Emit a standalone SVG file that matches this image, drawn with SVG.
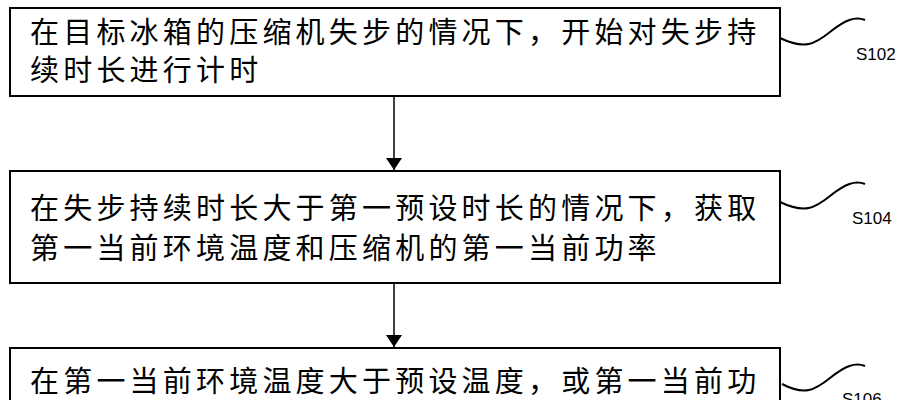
<svg xmlns="http://www.w3.org/2000/svg" width="909" height="400" viewBox="0 0 909 400">
<defs><marker id="ah" markerWidth="12" markerHeight="16" refX="12" refY="8" orient="auto" markerUnits="userSpaceOnUse"><path d="M0,0 L12,8 L0,16 z" fill="#000"/></marker></defs>
<style>
.box{fill:#fff;stroke:#000;stroke-width:2}
.t{font-family:"Noto Sans CJK SC",sans-serif;font-size:29px;letter-spacing:4.2px;fill:#000}
.lb{font-family:"Liberation Sans",Arial,sans-serif;font-size:17px;fill:#000}
.sq{fill:none;stroke:#000;stroke-width:2}
.c{stroke:#000;stroke-width:1.5;fill:none}
</style>
<rect width="909" height="400" fill="#fff"/>
<g id="n1"><rect class="box" x="10" y="8" width="770" height="88"/>
<text class="t" x="30" y="43">在目标冰箱的压缩机失步的情况下，开始对失步持</text>
<text class="t" x="30" y="81">续时长进行计时</text>
<path class="sq" d="M780,38 C805,50 815,44 830,32 C845,20 855,16 865,20"/>
<text class="lb" x="856" y="60">S102</text></g>
<g id="n2"><rect class="box" x="10" y="171" width="770" height="112"/>
<text class="t" x="30" y="219">在失步持续时长大于第一预设时长的情况下，获取</text>
<text class="t" x="30" y="259">第一当前环境温度和压缩机的第一当前功率</text>
<path class="sq" d="M780,202 C805,214 815,208 830,196 C845,184 855,180 865,184"/>
<text class="lb" x="852" y="224">S104</text></g>
<g id="n3"><rect class="box" x="10" y="348" width="770" height="60"/>
<text class="t" x="30" y="392">在第一当前环境温度大于预设温度，或第一当前功</text>
<path class="sq" d="M782,384 C805,396 815,390 830,378 C845,366 855,362 865,366"/>
<text class="lb" x="842" y="405">S106</text></g>
<g id="connectors">
<line class="c" x1="394" y1="96" x2="394" y2="170" marker-end="url(#ah)"/>
<line class="c" x1="394" y1="283" x2="394" y2="347" marker-end="url(#ah)"/>
</g>
</svg>
